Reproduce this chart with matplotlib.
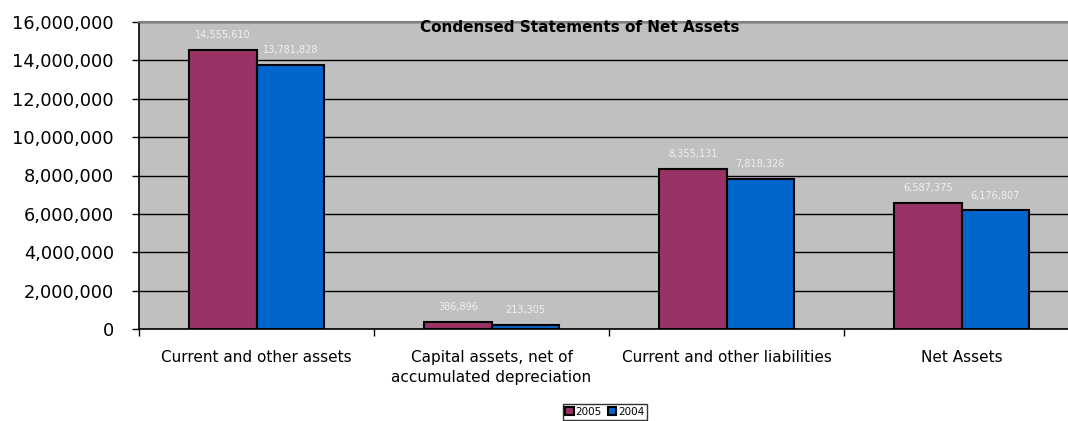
import numpy as np
import matplotlib.pyplot as plt
from matplotlib.ticker import FuncFormatter, FixedLocator

plt.rcParams['font.family'] = ['DejaVu Sans']

categories = ["Current and other assets",
              "Capital assets, net of\naccumulated depreciation",
              "Current and other liabilities",
              "Net Assets"]
years = ["2005", "2004"]
values_2005 = [14555610, 386896, 8355131, 6587375]
values_2004 = [13781828, 213305, 7818326, 6176807]
colors = ["#993366", "#0066CC"]

fig = plt.figure(figsize=(10.68, 4.21), dpi=100)
# plot area runs a little past the right edge of the figure
ax = fig.add_axes([139 / 1068, 1 - 329 / 421, 940 / 1068, 307 / 421])
ax.set_facecolor("#C0C0C0")

x = np.arange(len(categories))
w = 0.287
bars = []
for k, (vals, c) in enumerate(zip([values_2005, values_2004], colors)):
    b = ax.bar(x + (k - 0.5) * w, vals, width=w, color=c, edgecolor="black",
               linewidth=1.5, label=years[k], zorder=3)
    bars.append(b)
    for rect, v in zip(b, vals):
        ax.annotate(f"{v:,}", (rect.get_x() + rect.get_width() / 2, v),
                    xytext=(0, 7), textcoords="offset points",
                    ha="center", va="bottom", fontsize=7, color="#F0F0F0")

ax.set_xlim(-0.5, 3.5)
ax.set_ylim(0, 16000000)
ax.set_yticks(np.arange(0, 16000001, 2000000))
ax.yaxis.set_major_formatter(FuncFormatter(lambda v, p: f"{int(v):,}"))
ax.grid(axis="y", color="black", linewidth=1, zorder=1)
ax.tick_params(axis="y", labelsize=12.8, length=5, width=1, direction="out", pad=13)

ax.set_xticks(x)
ax.set_xticklabels(categories, fontsize=11, linespacing=1.45)
ax.tick_params(axis="x", length=0, pad=15)
ax.xaxis.set_minor_locator(FixedLocator(np.arange(-0.5, 4, 1)))
ax.tick_params(axis="x", which="minor", length=5, width=1, direction="out")

for s in ["top", "right"]:
    ax.spines[s].set_color("#808080")
    ax.spines[s].set_linewidth(1.5)
for s in ["left", "bottom"]:
    ax.spines[s].set_color("black")
    ax.spines[s].set_linewidth(1.2)

ax.text(580 / 1068, 1 - 28 / 421, "Condensed Statements of Net Assets",
        transform=fig.transFigure, ha="center", va="center",
        fontsize=11, fontweight="bold")

fig.legend(handles=bars, labels=years, loc="center", bbox_to_anchor=(605 / 1068, 1 - 412 / 421),
           ncol=2, fontsize=7.5, frameon=True, fancybox=False, edgecolor="black",
           handlelength=0.8, handleheight=0.8, handletextpad=0.2, columnspacing=0.6,
           borderpad=0.25, borderaxespad=0)

fig.savefig("out.png", dpi=100)
